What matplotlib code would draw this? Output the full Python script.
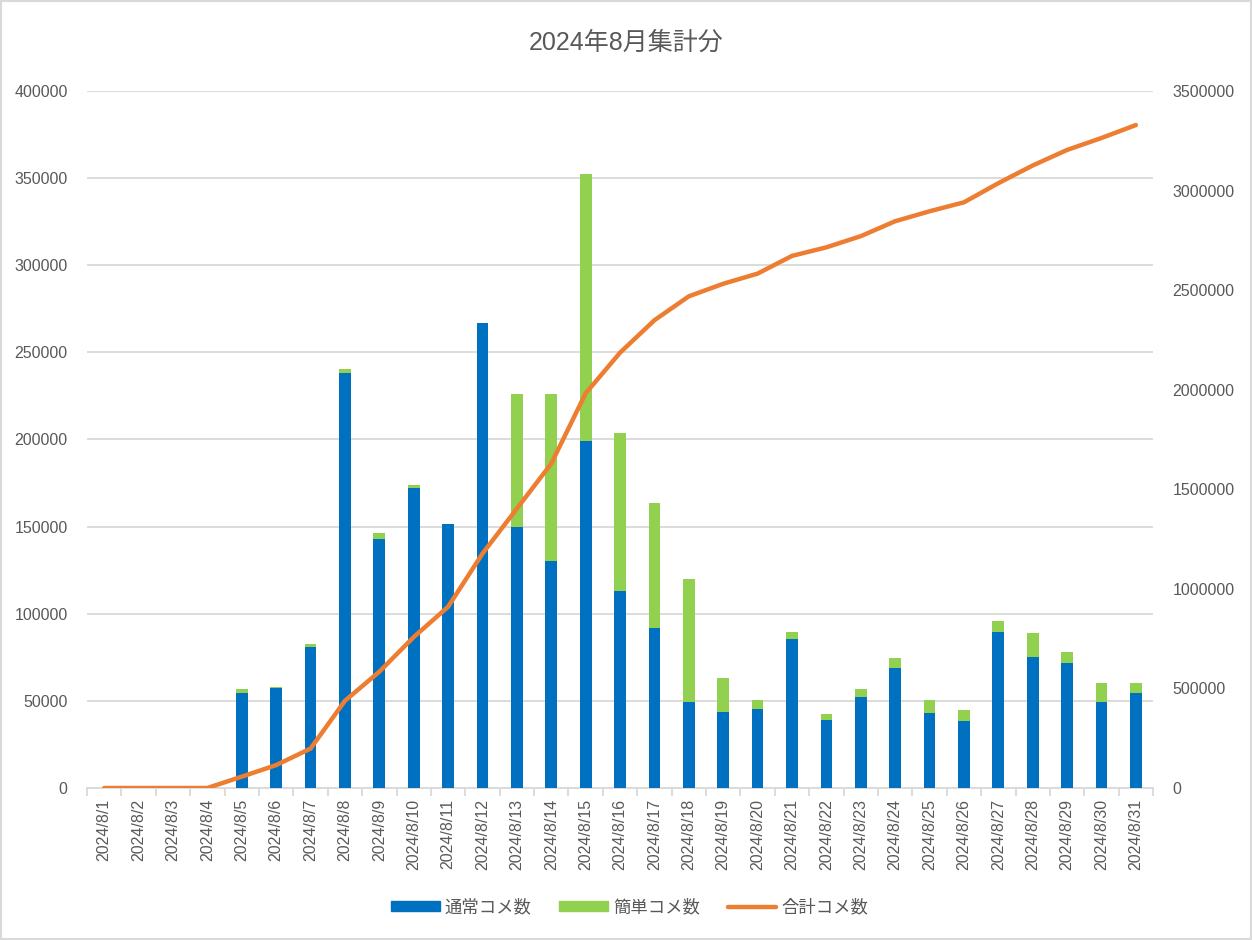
import numpy as np
import matplotlib.pyplot as plt
from matplotlib.patches import Rectangle
from matplotlib.lines import Line2D
from matplotlib.ticker import FuncFormatter

plt.rcParams['font.family'] = ['Liberation Sans', 'Noto Sans CJK JP', 'DejaVu Sans']

# data
dates = ['2024/8/%d' % d for d in range(1, 32)]

normal = [0, 0, 0, 0, 54500, 57400, 80900, 238200, 142900, 172200, 151500,
          266900, 149800, 130300, 199200, 113100, 91800, 49400, 43600, 45300,
          85500, 39000, 52200, 68900, 43000, 38400, 89500, 75200, 71700,
          49400, 54500]

simple = [0, 0, 0, 0, 2300, 600, 1700, 2300, 3400, 1700, 0,
          0, 76300, 95800, 153200, 90600, 71700, 70600, 19500, 5200,
          4000, 3400, 4600, 5700, 7500, 6300, 6300, 13800, 6300,
          10900, 5700]

total_cum = [0, 0, 0, 0, 57000, 115000, 198000, 438000, 584000, 758000, 910000,
             1177000, 1403000, 1629000, 1982000, 2186000, 2349000, 2469000,
             2532000, 2583000, 2672000, 2715000, 2771000, 2846000, 2896000,
             2941000, 3037000, 3126000, 3204000, 3264000, 3329000]

blue = '#0070C0'
green = '#92D050'
orange = '#ED7D31'
grid_c = '#D9D9D9'
text_c = '#595959'

fig = plt.figure(figsize=(12.52, 9.40), dpi=100)
fig.patches.append(Rectangle((0.0008, 0.001), 0.9984, 0.998, transform=fig.transFigure,
                             fill=False, edgecolor=grid_c, linewidth=1.5))

ax = fig.add_axes([0.0695, 0.1617, 0.8515, 0.7415])
x = np.arange(len(dates))

ax.bar(x, normal, width=0.34, color=blue, zorder=2)
ax.bar(x, simple, width=0.34, bottom=normal, color=green, zorder=2)

ax.set_xlim(-0.5, len(dates) - 0.5)
ax.set_ylim(0, 400000)
ax.set_yticks(np.arange(0, 400001, 50000))
ax.grid(axis='y', color=grid_c, linewidth=1.3, zorder=0)
ax.set_axisbelow(True)
for s in ['top', 'left', 'right']:
    ax.spines[s].set_visible(False)
ax.spines['bottom'].set_color(grid_c)
ax.spines['bottom'].set_linewidth(1.3)
ax.spines['bottom'].set_zorder(1)

plain = FuncFormatter(lambda v, p: '%d' % v)

ax.set_xticks(x)
ax.set_xticklabels(dates, rotation=90, fontsize=11.5, color=text_c)
ax.tick_params(axis='x', length=0, pad=8)
ax.set_xticks(np.arange(-0.5, len(dates), 1), minor=True)
ax.tick_params(axis='x', which='minor', length=6, color=grid_c, width=1.3)
ax.yaxis.set_major_formatter(plain)
ax.tick_params(axis='y', length=0, labelsize=11.5, labelcolor=text_c, pad=14)

ax2 = ax.twinx()
ax2.plot(x, total_cum, color=orange, linewidth=3.2, solid_capstyle='round', zorder=3)
ax2.set_ylim(0, 3500000)
ax2.set_yticks(np.arange(0, 3500001, 500000))
ax2.yaxis.set_major_formatter(plain)
ax2.tick_params(axis='y', length=0, labelsize=11.5, labelcolor=text_c, pad=14)
for s in ax2.spines.values():
    s.set_visible(False)

fig.text(0.5, 0.955, '2024年8月集計分', ha='center', va='center',
         fontsize=18, color=text_c)

handles = [Rectangle((0, 0), 1, 1, color=blue),
           Rectangle((0, 0), 1, 1, color=green),
           Line2D([0], [0], color=orange, linewidth=3.2, solid_capstyle='round')]
labels = ['通常コメ数', '簡単コメ数', '合計コメ数']
leg = fig.legend(handles, labels, loc='center', bbox_to_anchor=(0.503, 0.035), ncol=3,
                 frameon=False, fontsize=12.5, handlelength=2.8, handleheight=0.5,
                 handletextpad=0.3, columnspacing=1.6)
for t in leg.get_texts():
    t.set_color(text_c)

fig.savefig('out.png', dpi=100)
